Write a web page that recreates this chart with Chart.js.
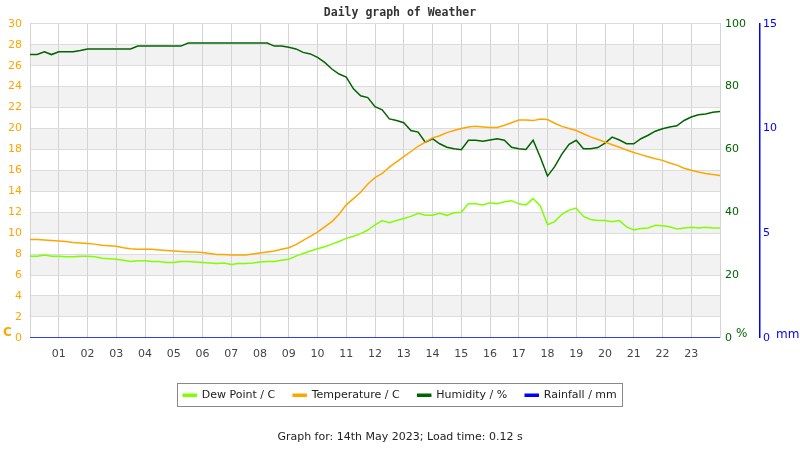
<!DOCTYPE html>
<html>
<head>
<meta charset="utf-8">
<script src="https://cdn.jsdelivr.net/npm/chart.js@4"></script>
<style>
  html, body { margin: 0; padding: 0; background: #fff; }
</style>
</head>
<body>
<canvas id="chart" width="800" height="450"></canvas>
<script>
// quarter-hourly readings for 14th May 2023
const hours = [0, 0.25, 0.5, 0.75, 1, 1.25, 1.5, 1.75, 2, 2.25, 2.5, 2.75, 3, 3.25, 3.5, 3.75,
  4, 4.25, 4.5, 4.75, 5, 5.25, 5.5, 5.75, 6, 6.25, 6.5, 6.75, 7, 7.25, 7.5, 7.75,
  8, 8.25, 8.5, 8.75, 9, 9.25, 9.5, 9.75, 10, 10.25, 10.5, 10.75, 11, 11.25, 11.5, 11.75,
  12, 12.25, 12.5, 12.75, 13, 13.25, 13.5, 13.75, 14, 14.25, 14.5, 14.75, 15, 15.25, 15.5, 15.75,
  16, 16.25, 16.5, 16.75, 17, 17.25, 17.5, 17.75, 18, 18.25, 18.5, 18.75, 19, 19.25, 19.5, 19.75,
  20, 20.25, 20.5, 20.75, 21, 21.25, 21.5, 21.75, 22, 22.25, 22.5, 22.75, 23, 23.25, 23.5, 23.75, 24];
const dewPoint = [7.8, 7.8, 7.9, 7.8, 7.8, 7.75, 7.75, 7.8, 7.8, 7.75, 7.6, 7.55, 7.5, 7.4, 7.3, 7.35,
  7.35, 7.3, 7.3, 7.2, 7.2, 7.3, 7.3, 7.25, 7.2, 7.15, 7.1, 7.15, 7.0, 7.1, 7.1, 7.15,
  7.25, 7.3, 7.3, 7.4, 7.5, 7.8, 8.05, 8.3, 8.5, 8.7, 8.95, 9.2, 9.5, 9.7, 9.95, 10.3,
  10.8, 11.2, 11.0, 11.2, 11.4, 11.6, 11.9, 11.7, 11.7, 11.9, 11.7, 11.95, 12.0, 12.8, 12.8, 12.7,
  12.9, 12.8, 13.0, 13.1, 12.8, 12.7, 13.3, 12.6, 10.8, 11.1, 11.8, 12.2, 12.4, 11.6, 11.3, 11.2,
  11.2, 11.1, 11.2, 10.6, 10.3, 10.45, 10.5, 10.75, 10.7, 10.6, 10.4, 10.5, 10.55, 10.5, 10.55, 10.5, 10.5];
const temperature = [9.4, 9.4, 9.35, 9.3, 9.25, 9.2, 9.1, 9.05, 9.0, 8.95, 8.85, 8.8, 8.75, 8.6, 8.5, 8.45,
  8.45, 8.45, 8.4, 8.35, 8.3, 8.25, 8.2, 8.2, 8.15, 8.05, 7.95, 7.95, 7.9, 7.9, 7.9, 8.0,
  8.1, 8.2, 8.3, 8.45, 8.6, 8.9, 9.3, 9.7, 10.1, 10.6, 11.1, 11.8, 12.7, 13.3, 13.9, 14.7,
  15.3, 15.7, 16.3, 16.8, 17.3, 17.8, 18.3, 18.7, 19.1, 19.3, 19.6, 19.8, 20.0, 20.15, 20.2, 20.15,
  20.1, 20.1, 20.3, 20.55, 20.8, 20.8, 20.75, 20.9, 20.85, 20.5, 20.2, 20.0, 19.8, 19.5, 19.2, 18.95,
  18.7, 18.45, 18.2, 17.95, 17.7, 17.5, 17.3, 17.1, 16.95, 16.7, 16.5, 16.2, 16.0, 15.85, 15.7, 15.6, 15.5];
const humidity = [90.2, 90.2, 91.1, 90.2, 91.1, 91.1, 91.1, 91.5, 92.0, 92.0, 92.0, 92.0, 92.0, 92.0, 92.0, 92.9,
  92.9, 92.9, 92.9, 92.9, 92.9, 92.9, 93.9, 93.9, 93.9, 93.9, 93.9, 93.9, 93.9, 93.9, 93.9, 93.9,
  93.9, 93.9, 92.9, 92.9, 92.5, 92.0, 90.9, 90.4, 89.3, 87.7, 85.6, 84.0, 83.0, 79.3, 77.1, 76.5,
  73.6, 72.6, 69.7, 69.2, 68.5, 66.0, 65.5, 62.3, 63.4, 61.8, 60.7, 60.2, 59.9, 62.9, 62.9, 62.6,
  63.0, 63.4, 62.9, 60.7, 60.2, 60.0, 62.9, 57.5, 51.5, 54.5, 58.5, 61.6, 62.9, 60.2, 60.2, 60.6,
  62.0, 63.9, 63.0, 61.8, 61.8, 63.4, 64.5, 65.8, 66.6, 67.1, 67.5, 69.2, 70.3, 71.0, 71.3, 71.8, 72.1];
const rainfall = [0, 0, 0, 0, 0, 0, 0, 0, 0, 0, 0, 0, 0, 0, 0, 0, 0, 0, 0, 0, 0, 0, 0, 0,
  0, 0, 0, 0, 0, 0, 0, 0, 0, 0, 0, 0, 0, 0, 0, 0, 0, 0, 0, 0, 0, 0, 0, 0,
  0, 0, 0, 0, 0, 0, 0, 0, 0, 0, 0, 0, 0, 0, 0, 0, 0, 0, 0, 0, 0, 0, 0, 0,
  0, 0, 0, 0, 0, 0, 0, 0, 0, 0, 0, 0, 0, 0, 0, 0, 0, 0, 0, 0, 0, 0, 0, 0, 0];
const hourLabels = ["01", "02", "03", "04", "05", "06", "07", "08", "09", "10", "11", "12",
  "13", "14", "15", "16", "17", "18", "19", "20", "21", "22", "23"];

const toPoints = (values) => values.map((v, i) => ({ x: hours[i], y: v }));

Chart.defaults.font.family = "'DejaVu Sans', sans-serif";
Chart.defaults.font.size = 11;

// grey bands behind every other 2 degree step
const bandPlugin = {
  id: "bands",
  beforeDraw(chart) {
    const { ctx, chartArea: a, scales: { y } } = chart;
    ctx.save();
    ctx.fillStyle = "#f2f2f2";
    for (let v = 2; v < 30; v += 4) {
      const top = y.getPixelForValue(v + 2);
      const bottom = y.getPixelForValue(v);
      ctx.fillRect(a.left, top, a.right - a.left, bottom - top);
    }
    ctx.restore();
  },
};

// unit labels next to the axes and the box round the legend
const extrasPlugin = {
  id: "extras",
  afterDraw(chart) {
    const { ctx, chartArea: a, scales } = chart;
    ctx.save();
    ctx.textBaseline = "middle";
    ctx.font = "bold 12px 'DejaVu Sans', sans-serif";
    ctx.fillStyle = "#FFA500";
    ctx.fillText("C", 3, a.bottom - 5);
    ctx.font = "12px 'DejaVu Sans', sans-serif";
    ctx.fillStyle = "#006400";
    ctx.fillText("%", scales.yHum.left + 16, a.bottom - 4);
    ctx.fillStyle = "#0000ff";
    ctx.fillText("mm", scales.yRain.left + 16, a.bottom - 3);

    const boxes = chart.legend.legendHitBoxes;
    if (boxes && boxes.length) {
      const first = boxes[0];
      const last = boxes[boxes.length - 1];
      ctx.strokeStyle = "#888";
      ctx.lineWidth = 1;
      ctx.strokeRect(Math.round(first.left) - 5.5, Math.round(first.top) - 6.5,
        Math.round(last.left + last.width - first.left) + 11, 23);
    }
    ctx.restore();
  },
};

new Chart(document.getElementById("chart"), {
  type: "line",
  data: {
    datasets: [
      { label: "Dew Point / C", data: toPoints(dewPoint), borderColor: "#7FFF00", backgroundColor: "#7FFF00", yAxisID: "y" },
      { label: "Temperature / C", data: toPoints(temperature), borderColor: "#FFA500", backgroundColor: "#FFA500", yAxisID: "y" },
      { label: "Humidity / %", data: toPoints(humidity), borderColor: "#006400", backgroundColor: "#006400", yAxisID: "yHum" },
      { label: "Rainfall / mm", data: toPoints(rainfall), borderColor: "#0000ff", backgroundColor: "#0000ff", yAxisID: "yRain" },
    ],
  },
  options: {
    responsive: false,
    animation: false,
    devicePixelRatio: 1,
    layout: { padding: 0 },
    elements: {
      point: { radius: 0 },
      line: { borderWidth: 1.5, tension: 0 },
    },
    scales: {
      x: {
        type: "linear",
        min: 0,
        max: 24,
        afterFit: (s) => { s.height = 34; },
        grid: { color: "#d3d3d3", drawTicks: false },
        border: { display: false },
        ticks: {
          stepSize: 1,
          padding: 10,
          color: "#444",
          maxRotation: 0,
          autoSkip: false,
          callback: (v) => (v >= 1 && v <= 23 ? hourLabels[v - 1] : ""),
        },
      },
      y: {
        position: "left",
        min: 0,
        max: 30,
        afterFit: (s) => { s.width = 30; },
        grid: { color: "#dcdcdc", drawTicks: false },
        border: { color: "#d3d3d3" },
        ticks: { stepSize: 2, padding: 8, color: "#FFA500" },
      },
      yHum: {
        position: "right",
        min: 0,
        max: 100,
        afterFit: (s) => { s.width = 40; },
        grid: { display: false, drawTicks: false },
        border: { display: true, color: "#d3d3d3" },
        ticks: { stepSize: 20, padding: 5, color: "#006400" },
      },
      yRain: {
        position: "right",
        min: 0,
        max: 15,
        afterFit: (s) => { s.width = 40; },
        grid: { display: false, drawTicks: false },
        border: { display: true, color: "#0000ff", width: 1.5 },
        ticks: { stepSize: 5, padding: 3, color: "#0000ff" },
      },
    },
    plugins: {
      title: {
        display: true,
        text: "Daily graph of Weather",
        color: "#333",
        font: { family: "'DejaVu Sans Mono', monospace", size: 11.5, weight: "bold" },
        padding: { top: 6, bottom: 4 },
      },
      legend: {
        position: "bottom",
        labels: { boxWidth: 13, boxHeight: 2, padding: 18, color: "#222", font: { size: 11 } },
      },
      subtitle: {
        display: true,
        position: "bottom",
        text: "Graph for: 14th May 2023; Load time: 0.12 s",
        color: "#222",
        font: { size: 11 },
        padding: { top: 20, bottom: 6 },
      },
      tooltip: { enabled: false },
    },
  },
  plugins: [bandPlugin, extrasPlugin],
});
</script>
</body>
</html>
